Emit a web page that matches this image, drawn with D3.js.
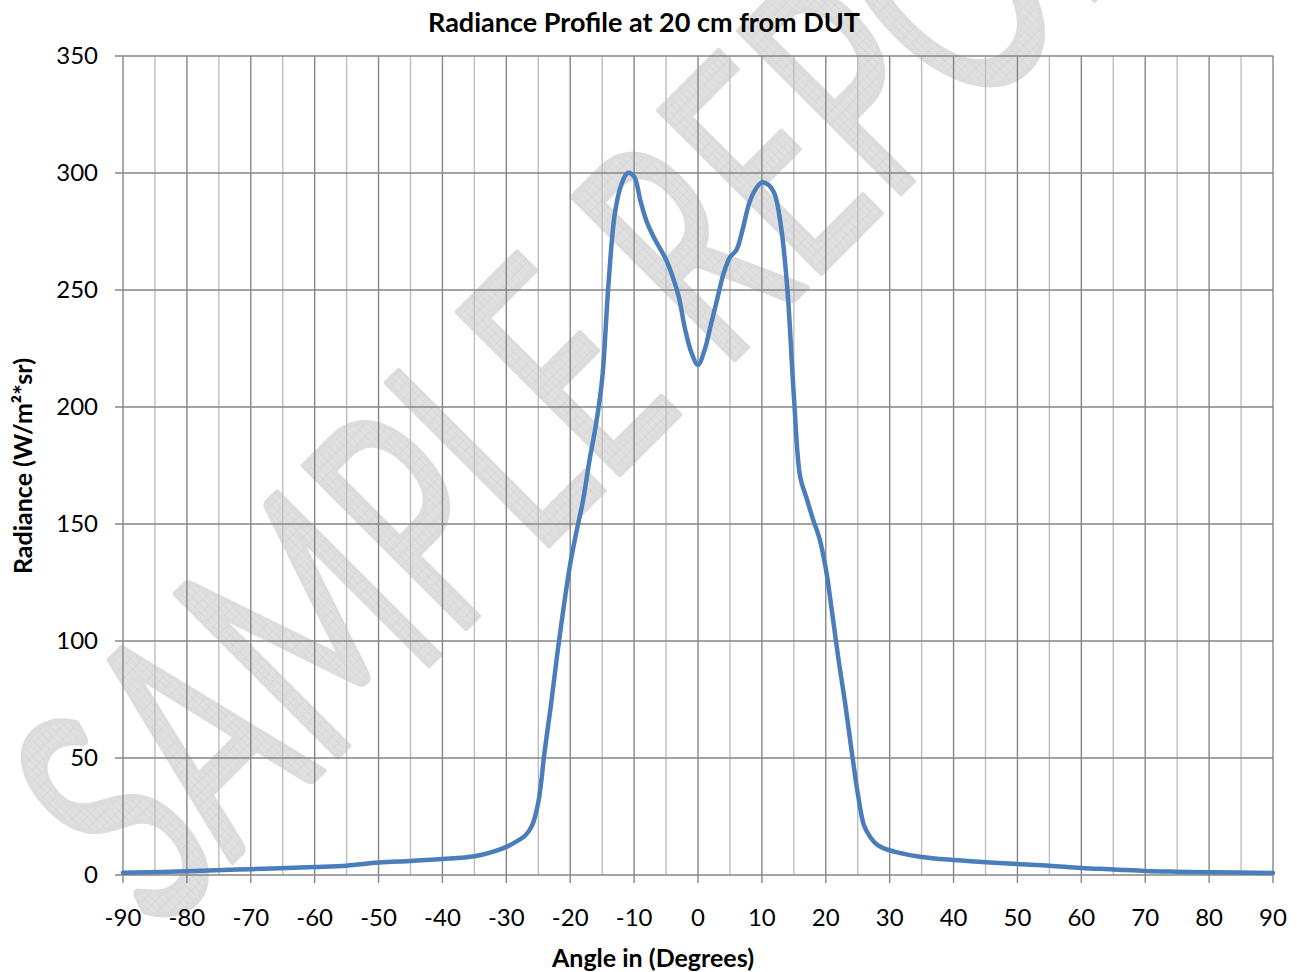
<!DOCTYPE html>
<html lang="en">
<head>
  <meta charset="utf-8"/>
  <title>Radiance Profile</title>
  <script src="https://d3js.org/d3.v7.min.js"></script>
  <style>
  body { margin: 0; background: white; }
  text { font-family: Lato, "Open Sans", sans-serif; fill: #000; }
  .tick-label { font-size: 24px; }
  .title { font-size: 27px; font-weight: bold; }
  .axis-title { font-size: 25px; font-weight: bold; }
  .grid-major { stroke: #868686; stroke-width: 1.4px; }
  .grid-minor { stroke: #bebebe; stroke-width: 1.4px; }
  .profile { fill: none; stroke: #4a7ebb; stroke-width: 4.5px; stroke-linejoin: round; stroke-linecap: round; }
  </style>
</head>
<body>
<svg id="chart" width="1297" height="972"></svg>
<script>
// angle in degrees, radiance in W/m2*sr
const angles = [-90, -80, -70, -60, -55, -50, -45, -40, -35, -32, -30, -28, -27, -26, -25, -24, -23, -22, -21, -20,
  -19, -18, -17, -16, -15, -14, -13, -12, -11, -10, -9, -8, -7, -6, -5, -4, -3, -2, -1, 0,
  1, 2, 3, 4, 5, 6, 7, 8, 9, 10, 11, 12, 13, 14, 15, 16, 17, 18, 19, 20,
  21, 22, 23, 24, 25, 26, 27, 28, 29, 31, 35, 40, 45, 50, 55, 60, 65, 70, 75, 80, 90];
const radiance = [1.0, 1.6, 2.5, 3.4, 4.0, 5.3, 6.0, 6.8, 8.0, 10, 12, 15, 17, 21, 31, 53, 73, 95, 115, 133,
  147, 160, 177, 192, 212, 253, 283, 295, 300, 298.5, 288, 279, 273, 268, 263, 256, 247, 233, 223, 218,
  224, 235, 246, 257, 264, 267, 276, 287, 293, 296, 295, 291, 277, 250, 205, 170, 161, 152, 144, 131,
  112, 92, 74, 54, 35, 21, 16, 13, 11.5, 9.8, 7.7, 6.4, 5.5, 4.7, 4.0, 3.0, 2.4, 1.7, 1.4, 1.2, 0.9];

const xTicks = d3.range(-90, 91, 10);
const xMinor = d3.range(-85, 90, 10);
const yTicks = d3.range(0, 351, 50);

const titleText = "Radiance Profile at 20 cm from DUT";
const xTitle = "Angle in (Degrees)";
const yTitle = "Radiance (W/m²*sr)";
const watermark = "SAMPLE REPORT";

const svg = d3.select("#chart");
const plotLeft = 123, plotRight = 1273, plotTop = 56, plotBottom = 875;

const x = d3.scaleLinear().domain([-90, 90]).range([plotLeft, plotRight]);
const y = d3.scaleLinear().domain([0, 350]).range([plotBottom, plotTop]);

// hatch pattern for the watermark
const defs = svg.append("defs");
const pat = defs.append("pattern")
  .attr("id", "hatch")
  .attr("patternUnits", "userSpaceOnUse")
  .attr("width", 9).attr("height", 9);
pat.append("rect").attr("width", 9).attr("height", 9).attr("fill", "#e0e0e0");
pat.append("path").attr("d", "M0,0H9M0,0V9").attr("stroke", "#cbcbcb").attr("stroke-width", 1);

// watermark, condensed and tilted
svg.append("text")
  .attr("transform", "translate(158,936) rotate(-45) scale(0.61,1)")
  .attr("font-size", 320)
  .style("fill", "url(#hatch)")
  .style("stroke", "#dcdcdc")
  .style("stroke-width", 6)
  .style("stroke-linejoin", "round")
  .text(watermark);

// minor verticals
svg.append("g").selectAll("line").data(xMinor).enter()
  .append("line")
  .attr("class", "grid-minor")
  .attr("x1", d => x(d)).attr("x2", d => x(d))
  .attr("y1", plotTop).attr("y2", plotBottom);

// major verticals, running down into tick marks
svg.append("g").selectAll("line").data(xTicks).enter()
  .append("line")
  .attr("class", "grid-major")
  .attr("x1", d => x(d)).attr("x2", d => x(d))
  .attr("y1", plotTop).attr("y2", plotBottom + 8);

// horizontals, running left into tick marks
svg.append("g").selectAll("line").data(yTicks).enter()
  .append("line")
  .attr("class", "grid-major")
  .attr("x1", plotLeft - 8).attr("x2", plotRight)
  .attr("y1", d => y(d)).attr("y2", d => y(d));

// tick labels
svg.append("g").selectAll("text").data(yTicks).enter()
  .append("text")
  .attr("class", "tick-label")
  .attr("x", 98)
  .attr("y", d => y(d))
  .attr("dy", "0.35em")
  .attr("text-anchor", "end")
  .text(d => d);

svg.append("g").selectAll("text").data(xTicks).enter()
  .append("text")
  .attr("class", "tick-label")
  .attr("x", d => x(d))
  .attr("y", 926)
  .attr("text-anchor", "middle")
  .text(d => d);

// profile line
const line = d3.line()
  .x(d => x(d[0]))
  .y(d => y(d[1]))
  .curve(d3.curveCatmullRom.alpha(0.5));

svg.append("path")
  .datum(d3.zip(angles, radiance))
  .attr("class", "profile")
  .attr("d", line);

// titles
svg.append("text")
  .attr("class", "title")
  .attr("x", 644).attr("y", 32)
  .attr("text-anchor", "middle")
  .text(titleText);

svg.append("text")
  .attr("class", "axis-title")
  .attr("x", 653).attr("y", 967)
  .attr("text-anchor", "middle")
  .text(xTitle);

svg.append("text")
  .attr("class", "axis-title")
  .attr("transform", "translate(32,466) rotate(-90)")
  .attr("text-anchor", "middle")
  .text(yTitle);
</script>
</body>
</html>
